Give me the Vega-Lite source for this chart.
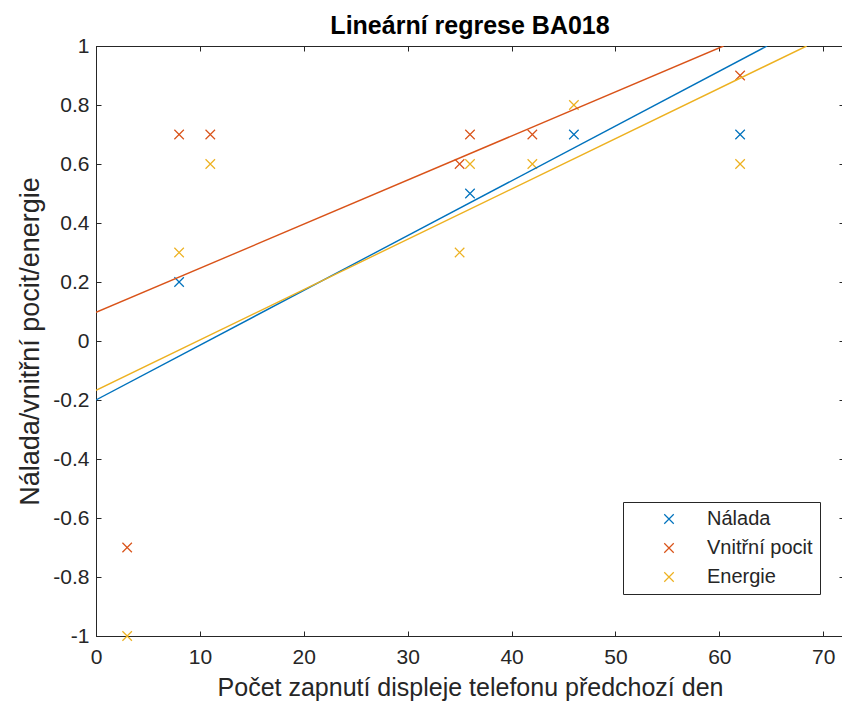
{
  "$schema": "https://vega.github.io/schema/vega-lite/v6.json",
  "autosize": "none",
  "width": 748,
  "height": 590,
  "padding": {"left": 96, "top": 46, "right": 0, "bottom": 72},
  "background": "white",
  "config": {
    "view": {"stroke": "#262626", "strokeWidth": 1},
    "font": "Liberation Sans",
    "axis": {
      "grid": false,
      "domainColor": "#262626",
      "tickColor": "#262626",
      "labelColor": "#262626",
      "titleColor": "#262626",
      "labelFont": "Liberation Sans",
      "titleFont": "Liberation Sans",
      "labelFontSize": 21,
      "titleFontSize": 25,
      "titleFontWeight": "normal",
      "tickSize": -5,
      "labelPadding": 10,
      "labelFlush": false
    }
  },
  "title": {
    "text": "Lineární regrese BA018",
    "font": "Liberation Sans",
    "fontSize": 25,
    "fontWeight": "bold",
    "color": "#000000",
    "anchor": "middle",
    "offset": -4
  },
  "datasets": {
    "points": [
      {"series": "Nálada", "x": 8, "y": 0.2},
      {"series": "Nálada", "x": 36, "y": 0.5},
      {"series": "Nálada", "x": 46, "y": 0.7},
      {"series": "Nálada", "x": 62, "y": 0.7},
      {"series": "Vnitřní pocit", "x": 3, "y": -0.7},
      {"series": "Vnitřní pocit", "x": 8, "y": 0.7},
      {"series": "Vnitřní pocit", "x": 11, "y": 0.7},
      {"series": "Vnitřní pocit", "x": 35, "y": 0.6},
      {"series": "Vnitřní pocit", "x": 36, "y": 0.7},
      {"series": "Vnitřní pocit", "x": 42, "y": 0.7},
      {"series": "Vnitřní pocit", "x": 62, "y": 0.9},
      {"series": "Energie", "x": 3, "y": -1},
      {"series": "Energie", "x": 8, "y": 0.3},
      {"series": "Energie", "x": 11, "y": 0.6},
      {"series": "Energie", "x": 35, "y": 0.3},
      {"series": "Energie", "x": 36, "y": 0.6},
      {"series": "Energie", "x": 42, "y": 0.6},
      {"series": "Energie", "x": 46, "y": 0.8},
      {"series": "Energie", "x": 62, "y": 0.6}
    ],
    "lines": [
      {"series": "Nálada", "x": 0, "y": -0.2},
      {"series": "Nálada", "x": 64.6, "y": 1},
      {"series": "Vnitřní pocit", "x": 0, "y": 0.097},
      {"series": "Vnitřní pocit", "x": 60.4, "y": 1},
      {"series": "Energie", "x": 0, "y": -0.167},
      {"series": "Energie", "x": 68.4, "y": 1}
    ]
  },
  "layer": [
    {
      "data": {"name": "points"},
      "mark": {"type": "point", "shape": "M-1,-1L1,1M1,-1L-1,1", "filled": false, "size": 90, "strokeWidth": 1.2, "opacity": 1},
      "encoding": {
        "x": {
          "field": "x", "type": "quantitative",
          "scale": {"domain": [0, 72], "nice": false, "zero": false},
          "axis": {
            "orient": "bottom",
            "values": [0, 10, 20, 30, 40, 50, 60, 70],
            "title": "Počet zapnutí displeje telefonu předchozí den",
            "labelPadding": 15,
            "titlePadding": 8
          }
        },
        "y": {
          "field": "y", "type": "quantitative",
          "scale": {"domain": [-1, 1], "nice": false, "zero": false},
          "axis": {
            "orient": "left",
            "values": [-1, -0.8, -0.6, -0.4, -0.2, 0, 0.2, 0.4, 0.6, 0.8, 1],
            "labelExpr": "datum.value < 0 ? '-' + format(-datum.value, '~g') : format(datum.value, '~g')",
            "title": "Nálada/vnitřní pocit/energie",
            "titleFontSize": 27,
            "labelPadding": 12,
            "titlePadding": 8
          }
        },
        "color": {
          "field": "series", "type": "nominal",
          "scale": {"domain": ["Nálada", "Vnitřní pocit", "Energie"], "range": ["#0072BD", "#D95319", "#EDB120"]},
          "legend": {
            "orient": "none",
            "legendX": 527,
            "legendY": 456,
            "title": null,
            "strokeColor": "#262626",
            "fillColor": "white",
            "padding": 7,
            "symbolType": "M-1,-1L1,1M1,-1L-1,1",
            "symbolSize": 90,
            "symbolStrokeWidth": 1.2,
            "symbolFillColor": "transparent",
            "symbolOffset": 29,
            "labelOffset": 28,
            "labelFontSize": 20,
            "labelFont": "Liberation Sans",
            "labelColor": "#262626",
            "rowPadding": 9
          }
        }
      }
    },
    {
      "data": {"name": "lines"},
      "mark": {"type": "line", "strokeWidth": 1.4, "clip": true},
      "encoding": {
        "x": {
          "field": "x", "type": "quantitative",
          "axis": {"orient": "top", "values": [0, 10, 20, 30, 40, 50, 60, 70], "labels": false, "title": null}
        },
        "y": {
          "field": "y", "type": "quantitative",
          "axis": {"orient": "right", "values": [-1, -0.8, -0.6, -0.4, -0.2, 0, 0.2, 0.4, 0.6, 0.8, 1], "labels": false, "title": null}
        },
        "stroke": {
          "field": "series", "type": "nominal",
          "scale": {"domain": ["Nálada", "Vnitřní pocit", "Energie"], "range": ["#0072BD", "#D95319", "#EDB120"]},
          "legend": null
        },
        "detail": {"field": "series", "type": "nominal"}
      }
    }
  ],
  "resolve": {"axis": {"x": "independent", "y": "independent"}}
}
